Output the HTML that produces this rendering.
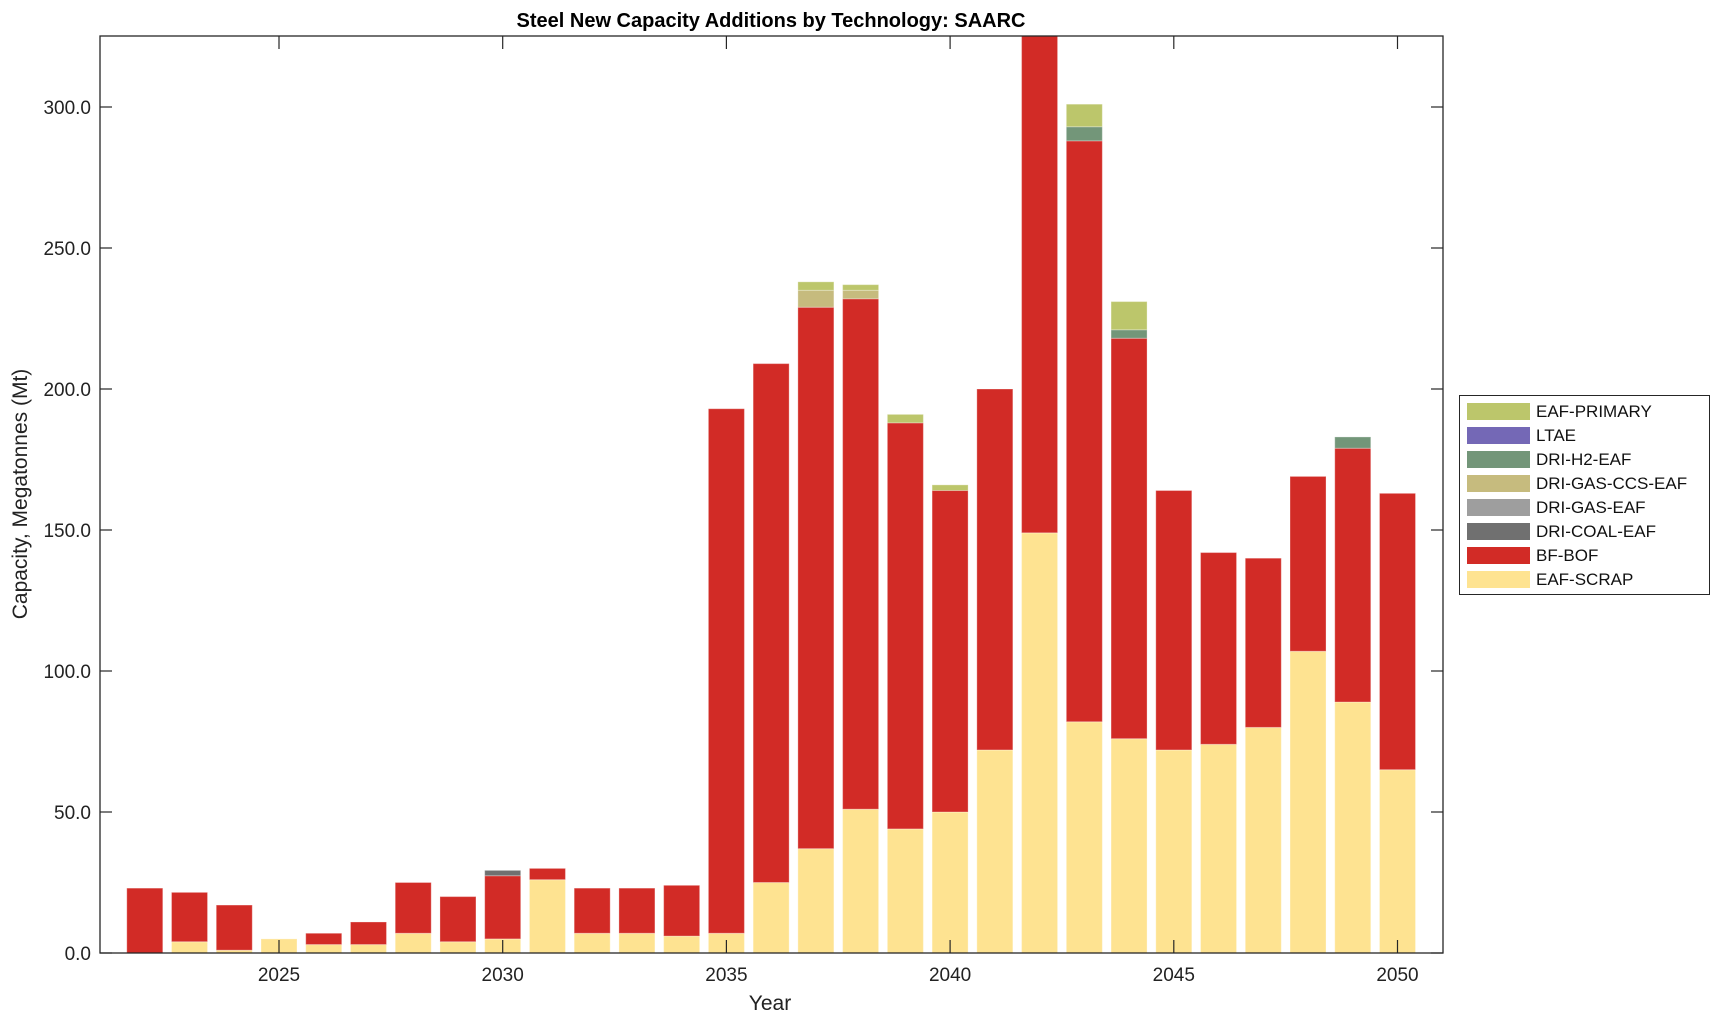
<!DOCTYPE html>
<html><head><meta charset="utf-8"><style>
html,body{margin:0;padding:0;background:#fff;}
svg{display:block;font-family:"Liberation Sans",Arial,sans-serif;}
</style></head><body>
<svg id="c" width="1720" height="1021" viewBox="0 0 1720 1021" xmlns="http://www.w3.org/2000/svg">
<rect width="1720" height="1021" fill="#fff"/>
<g id="bars"></g>
<g id="axes"></g>
<text x="771" y="27" text-anchor="middle" font-size="20" font-weight="bold" fill="#000">Steel New Capacity Additions by Technology: SAARC</text>
<text x="770" y="1010" text-anchor="middle" font-size="21" fill="#222">Year</text>
<text transform="translate(27,494) rotate(-90)" text-anchor="middle" font-size="21" fill="#222">Capacity, Megatonnes (Mt)</text>
<g id="legend"></g>
</svg>
<script>
var NS="http://www.w3.org/2000/svg";
function el(p,t,a,txt){var e=document.createElementNS(NS,t);for(var k in a)e.setAttribute(k,a[k]);if(txt!==undefined)e.textContent=txt;p.appendChild(e);return e;}
var X0=100,X1=1443,Y0=953,YT=36,ppu=2.82;
function xy(y){return Y0-y*ppu;}
function xx(yr){return 279+(yr-2025)*44.74;}
var C={S:"#fee391",B:"#d22b26",coal:"#707070",gas:"#9e9e9e",ccs:"#c6bb7e",h2:"#739679",ltae:"#7468b6",p:"#bcc66b"};
var D=[
[2022,0,23],[2023,4,21.5],[2024,1,17],[2025,5,5],[2026,3,7],[2027,3,11],[2028,7,25],[2029,4,20],
[2030,5,27.4,["coal",29.3]],[2031,26,30],[2032,7,23],[2033,7,23],[2034,6,24],[2035,7,193],[2036,25,209],
[2037,37,229,["ccs",235],["p",238]],[2038,51,232,["ccs",235],["p",237]],[2039,44,188,["p",191]],
[2040,50,164,["p",166]],[2041,72,200],[2042,149,340],[2043,82,288,["h2",293],["p",301]],
[2044,76,218,["h2",221],["p",231]],[2045,72,164],[2046,74,142],[2047,80,140],[2048,107,169],
[2049,89,179,["h2",183]],[2050,65,163]];
var g=document.getElementById("bars");
var clip=el(document.getElementById("c"),"clipPath",{id:"cp"});
el(clip,"rect",{x:X0,y:YT,width:X1-X0,height:Y0-YT});
g.setAttribute("clip-path","url(#cp)");
D.forEach(function(d){
  var x=xx(d[0])-18,w=36,prev=0;
  function seg(col,top){if(top>prev){el(g,"rect",{x:x,y:xy(top),width:w,height:(top-prev)*ppu,fill:col,stroke:"rgba(255,255,255,0.3)","stroke-width":1});}prev=top;}
  seg(C.S,d[1]);seg(C.B,d[2]);
  for(var i=3;i<d.length;i++)seg(C[d[i][0]],d[i][1]);
});
var a=document.getElementById("axes");
el(a,"rect",{x:X0,y:YT,width:X1-X0,height:Y0-YT,fill:"none",stroke:"#262626","stroke-width":1.3});
for(var v=0;v<=300;v+=50){var y=xy(v);
 el(a,"line",{x1:X0,y1:y,x2:X0+12,y2:y,stroke:"#262626","stroke-width":1.2});
 el(a,"line",{x1:X1,y1:y,x2:X1-12,y2:y,stroke:"#262626","stroke-width":1.2});
 el(a,"text",{x:X0-9,y:y+7,"text-anchor":"end","font-size":19,fill:"#222"},v.toFixed(1));}
for(var yr=2025;yr<=2050;yr+=5){var x=xx(yr);
 el(a,"line",{x1:x,y1:Y0,x2:x,y2:Y0-13,stroke:"#262626","stroke-width":1.2});
 el(a,"line",{x1:x,y1:YT,x2:x,y2:YT+13,stroke:"#262626","stroke-width":1.2});
 el(a,"text",{x:x,y:981,"text-anchor":"middle","font-size":19,fill:"#222"},String(yr));}
var L=document.getElementById("legend");
el(L,"rect",{x:1459.5,y:395.5,width:250,height:199,fill:"#fff",stroke:"#262626","stroke-width":1});
var items=[["EAF-PRIMARY",C.p],["LTAE",C.ltae],["DRI-H2-EAF",C.h2],["DRI-GAS-CCS-EAF",C.ccs],["DRI-GAS-EAF",C.gas],["DRI-COAL-EAF",C.coal],["BF-BOF",C.B],["EAF-SCRAP",C.S]];
items.forEach(function(it,i){var cy=411+i*24;
 el(L,"rect",{x:1467,y:cy-8,width:63,height:17,fill:it[1]});
 el(L,"text",{x:1536,y:cy+6,"font-size":17,fill:"#111"},it[0]);});
</script>
</body></html>
